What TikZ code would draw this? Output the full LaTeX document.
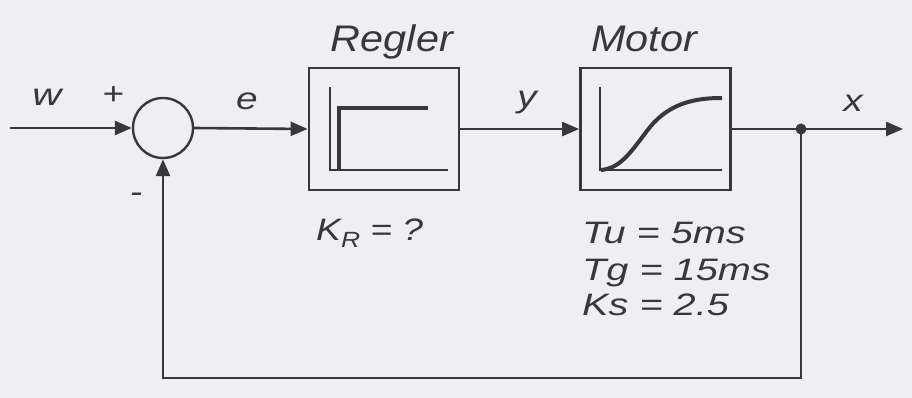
\documentclass[tikz,border=0pt]{standalone}
\usepackage{fontspec}
\setmainfont{Liberation Sans}
\usetikzlibrary{arrows.meta}
\definecolor{ink}{HTML}{38383C}
\definecolor{paper}{HTML}{EFEFF1}
\newcommand{\lbl}[2]{\scalebox{#1}[1]{\itshape #2}}
\begin{document}
\begin{tikzpicture}[x=1pt,y=-1pt,
  wire/.style={draw=ink,line width=2.6pt},
  sig/.style={wire,-{Triangle[length=17pt,width=14pt]}},
  blockbox/.style={draw=ink,line width=2.8pt,minimum width=150pt,minimum height=122pt,inner sep=0pt},
  sumnode/.style={circle,draw=ink,line width=2.4pt,minimum size=60pt,inner sep=0pt},
  big/.style={text=ink,font=\fontsize{37}{40}\selectfont,inner sep=0pt},
  small/.style={text=ink,font=\fontsize{31}{36}\selectfont,inner sep=0pt},
  axisline/.style={draw=ink,line width=2pt},
  curveline/.style={draw=ink,line width=4pt}]
% page
\fill[paper] (0,0) rectangle (912,398);
\useasboundingbox (0,0) rectangle (912,398);

% blocks
\node[sumnode] (sum) at (163,128) {};
\node[blockbox] (regler) at (384,129) {};
\node[blockbox] (motor) at (655.5,129) {};
\coordinate (win) at (10,128);
\node[circle,fill=ink,minimum size=11pt,inner sep=0pt] (tap) at (801,129) {};
\coordinate (xout) at (903,129);
\coordinate (fbr) at (801,378);
\coordinate (fbl) at (163,378);

% signal lines
\draw[sig] (win) -- (sum.west);
\draw[sig] (sum.east) -- (regler.west);
\draw[sig] (regler.east) -- (motor.west);
\draw[wire] (motor.east) -- (tap.center);
\draw[sig] (tap.center) -- (xout);
\draw[sig] (tap.center) -- (fbr) -- (fbl) -- (sum.south);

% step response inside the controller
\draw[axisline] (330,87) -- (330,170) -- (448,170);
\draw[curveline] (339,170) -- (339,108) -- (428,108);

% S-shaped response inside the motor
\draw[axisline] (600,87) -- (600,170) -- (722,170);
\draw[curveline] (601,170) .. controls (622,168) and (632,150) .. (650,127)
  .. controls (670,103) and (695,98) .. (722,98);

% labels
\node[small] (lw) at (47,97) {\lbl{1.3}{w}};
\node[small] (lplus) at (113,96) {\lbl{1.2}{+}};
\node[small] (lminus) at (136,198) {\lbl{1.2}{-}};
\node[small] (le) at (247,101) {\lbl{1.25}{e}};
\node[small] (ly) at (527,103) {\lbl{1.25}{y}};
\node[small] (lx) at (853,103) {\lbl{1.25}{x}};
\node[big,anchor=base] (tregler) at (392,52) {\lbl{1.12}{Regler}};
\node[big,anchor=base] (tmotor) at (644,52) {\lbl{1.12}{Motor}};
\node[small,anchor=base west] (kr) at (316,240) {\lbl{1.2}{K\raisebox{-0.25em}{\fontsize{22}{24}\selectfont R} = ?}};
\node[small,anchor=base west] (tu) at (582,243) {\lbl{1.28}{Tu = 5ms}};
\node[small,anchor=base west] (tg) at (582,280) {\lbl{1.28}{Tg = 15ms}};
\node[small,anchor=base west] (ks) at (582,315) {\lbl{1.28}{Ks = 2.5}};
\end{tikzpicture}
\end{document}
